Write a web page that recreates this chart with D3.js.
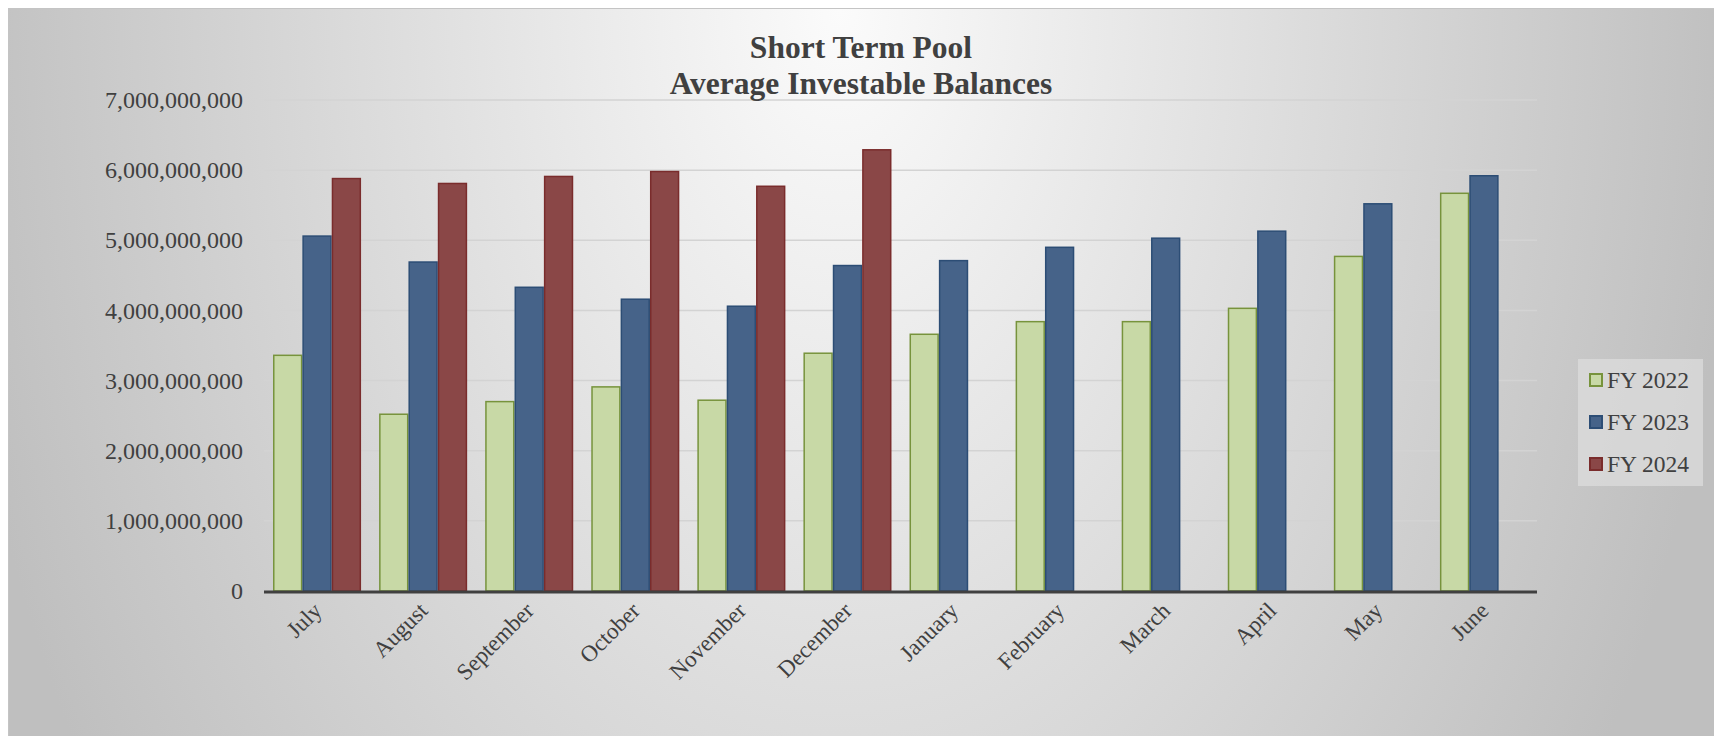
<!DOCTYPE html>
<html>
<head>
<meta charset="utf-8">
<script src="https://cdn.jsdelivr.net/npm/d3@7"></script>
<style>
  body { margin: 0; background: #fff; }
  text { font-family: "Liberation Serif", "Times New Roman", serif; fill: #404040; }
</style>
</head>
<body>
<svg id="chart" width="1714" height="736"></svg>
<script>
// months of the fiscal year
var months = ['July', 'August', 'September', 'October', 'November', 'December',
  'January', 'February', 'March', 'April', 'May', 'June'];
var seriesNames = ['FY 2022', 'FY 2023', 'FY 2024'];
// average investable balances, in dollars
var fy2022 = [3.36e9, 2.52e9, 2.70e9, 2.91e9, 2.72e9, 3.39e9, 3.66e9, 3.84e9, 3.84e9, 4.03e9, 4.77e9, 5.67e9];
var fy2023 = [5.06e9, 4.69e9, 4.33e9, 4.16e9, 4.06e9, 4.64e9, 4.71e9, 4.90e9, 5.03e9, 5.13e9, 5.52e9, 5.92e9];
var fy2024 = [5.88e9, 5.81e9, 5.91e9, 5.98e9, 5.77e9, 6.29e9, null, null, null, null, null, null];
var yTicks = [0, 1e9, 2e9, 3e9, 4e9, 5e9, 6e9, 7e9];

var fills = ['#c8d9a6', '#466389', '#8a4747'];
var strokes = ['#77933c', '#2c4d75', '#7a2c2c'];

var svg = d3.select('#chart');
var W = 1714, H = 736;
var plot = {left: 264, right: 1537, top: 100, bottom: 591};

// background panel with a soft radial gradient
var defs = svg.append('defs');
var grad = defs.append('radialGradient')
  .attr('id', 'bg')
  .attr('gradientUnits', 'userSpaceOnUse')
  .attr('cx', 0).attr('cy', 0).attr('r', 1)
  .attr('gradientTransform', 'translate(840,10) scale(900,1400)');
grad.append('stop').attr('offset', 0).attr('stop-color', '#fbfbfb');
grad.append('stop').attr('offset', 1).attr('stop-color', '#bfbfbf');

svg.append('rect').attr('x', 8.5).attr('y', 8.5).attr('width', W - 8).attr('height', H - 8)
  .attr('fill', 'url(#bg)').attr('stroke', '#c4c4c4').attr('stroke-width', 1);

var x0 = d3.scaleBand().domain(months).range([plot.left, plot.right])
  .paddingInner(0.17).paddingOuter(0.085);
var x1 = d3.scaleBand().domain(seriesNames).range([0, x0.bandwidth()]);
var y = d3.scaleLinear().domain([0, 7e9]).range([plot.bottom, plot.top]);

// gridlines
svg.append('g').selectAll('line').data(yTicks.slice(1)).enter().append('line')
  .attr('x1', plot.left).attr('x2', plot.right)
  .attr('y1', function(d) { return y(d); }).attr('y2', function(d) { return y(d); })
  .attr('stroke', '#d3d3d3').attr('stroke-width', 1.5);

// y axis labels
var yAxis = d3.axisLeft(y).tickValues(yTicks).tickSize(0).tickPadding(21)
  .tickFormat(d3.format(','));
var ya = svg.append('g').attr('transform', 'translate(' + plot.left + ',0)').call(yAxis);
ya.select('.domain').remove();
ya.selectAll('text').style('font-size', '24px').attr('fill', '#404040')
  .attr('font-family', '"Liberation Serif", serif');

// bars
var series = [fy2022, fy2023, fy2024];
var rows = [];
months.forEach(function(m, i) {
  series.forEach(function(s, j) {
    if (s[i] != null) rows.push({month: m, name: seriesNames[j], idx: j, value: s[i]});
  });
});
svg.append('g').selectAll('rect').data(rows).enter().append('rect')
  .attr('x', function(d) { return x0(d.month) + x1(d.name) + 0.75; })
  .attr('y', function(d) { return y(d.value); })
  .attr('width', x1.bandwidth() - 1.5)
  .attr('height', function(d) { return y(0) - y(d.value); })
  .attr('fill', function(d) { return fills[d.idx]; })
  .attr('stroke', function(d) { return strokes[d.idx]; })
  .attr('stroke-width', 1.5);

// x axis line
svg.append('line').attr('x1', plot.left).attr('x2', plot.right)
  .attr('y1', y(0) + 1).attr('y2', y(0) + 1)
  .attr('stroke', '#404040').attr('stroke-width', 3);

// month labels, rotated
svg.append('g').selectAll('text').data(months).enter().append('text')
  .attr('transform', function(d) {
    return 'translate(' + (x0(d) + x0.bandwidth() / 2 + 6) + ',' + 612 + ') rotate(-45)';
  })
  .attr('text-anchor', 'end')
  .style('font-size', '23px')
  .text(function(d) { return d; });

// title
var title = svg.append('text').attr('x', 861).attr('text-anchor', 'middle')
  .style('font-size', '31.5px').style('font-weight', 'bold');
title.append('tspan').attr('x', 861).attr('y', 58).text('Short Term Pool');
title.append('tspan').attr('x', 861).attr('y', 94).text('Average Investable Balances');

// legend
var lg = svg.append('g').attr('transform', 'translate(1578,359)');
lg.append('rect').attr('width', 125).attr('height', 127).attr('fill', '#dcdcdc').attr('opacity', 0.75);
var li = lg.selectAll('g').data(seriesNames).enter().append('g')
  .attr('transform', function(d, i) { return 'translate(11,' + (21 + i * 42) + ')'; });
li.append('rect').attr('x', 1).attr('y', -6).attr('width', 12).attr('height', 12)
  .attr('fill', function(d, i) { return fills[i]; })
  .attr('stroke', function(d, i) { return strokes[i]; }).attr('stroke-width', 2);
li.append('text').attr('x', 18).attr('dy', '0.35em').style('font-size', '23.5px')
  .text(function(d) { return d; });
</script>
</body>
</html>
